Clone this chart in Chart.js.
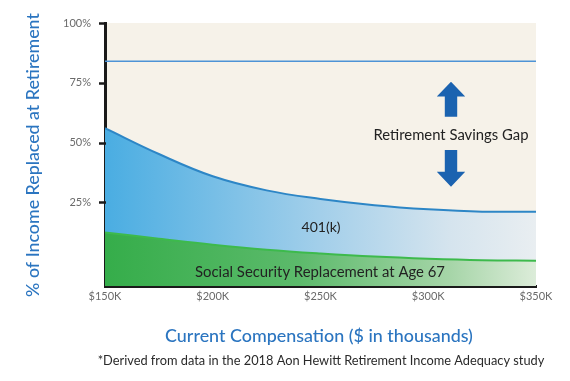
<!DOCTYPE html>
<html>
<head>
<meta charset="utf-8">
<script src="https://cdn.jsdelivr.net/npm/chart.js@4.4.1/dist/chart.umd.min.js"></script>
<style>
html,body{margin:0;padding:0;background:#fff;}
#wrap{width:570px;height:381px;}
</style>
</head>
<body>
<div id="wrap"><canvas id="c" width="570" height="381"></canvas></div>
<script>
// ---- data ----
const compensation = [150, 175, 200, 225, 250, 275, 300, 325, 350];          // $ thousands
const socialSecurity = [12.4, 9.8, 7.3, 5.2, 3.6, 2.3, 1.4, 0.8, 0.6];      // % replaced (top of green)
const total401k = [56.0, 45.2, 35.9, 30.0, 26.4, 23.8, 22.1, 21.1, 21.1];   // % replaced (top of blue)
const retirementNeed = [84, 84, 84, 84, 84, 84, 84, 84, 84];                // target line
const yTickValues = [25, 50, 75, 100];
const xTickValues = [150, 200, 250, 300, 350];

const FONT = 'Lato, "Open Sans", sans-serif';

function toPts(ys){ return compensation.map((x,i)=>({x:x, y:ys[i]})); }

function hGrad(ctx, area, stops){
  const g = ctx.createLinearGradient(area.left, 0, area.right, 0);
  stops.forEach(s=>g.addColorStop(s[0], s[1]));
  return g;
}

function fitText(ctx, text, cx, cy, width, weight, color){
  let size = 12;
  ctx.font = weight + ' ' + size + 'px ' + FONT;
  const w = ctx.measureText(text).width;
  size = size * width / w;
  ctx.font = weight + ' ' + size.toFixed(2) + 'px ' + FONT;
  ctx.fillStyle = color;
  ctx.textAlign = 'center';
  ctx.textBaseline = 'middle';
  ctx.fillText(text, cx, cy);
}

const decor = {
  id: 'decor',
  beforeDraw(chart){
    const {ctx, chartArea:a} = chart;
    ctx.save();
    ctx.fillStyle = '#f6f2e9';
    ctx.fillRect(a.left, a.top, a.right - a.left, a.bottom - a.top);
    ctx.restore();
  },
  afterDraw(chart){
    const ctx = chart.ctx;
    ctx.save();
    // axis titles and footnote
    ctx.save();
    ctx.translate(33, 155);
    ctx.rotate(-Math.PI/2);
    fitText(ctx, '% of Income Replaced at Retirement', 0, 0, 284, '500', '#2b75c0');
    ctx.restore();
    fitText(ctx, 'Current Compensation ($ in thousands)', 319, 336, 308, '500', '#2b75c0');
    fitText(ctx, '*Derived from data in the 2018 Aon Hewitt Retirement Income Adequacy study', 321, 361, 447, '400', '#2a2a2a');
    // in-plot labels
    fitText(ctx, 'Retirement Savings Gap', 451, 135, 155, '400', '#222');
    fitText(ctx, '401(k)', 321, 227, 39, '400', '#222');
    fitText(ctx, 'Social Security Replacement at Age 67', 320, 272, 250, '400', '#222');
    // arrows
    ctx.fillStyle = '#1b63b0';
    const cx = 451;
    ctx.beginPath();
    ctx.moveTo(cx, 81.7); ctx.lineTo(cx+14.2, 96.5); ctx.lineTo(cx+6.2, 96.5);
    ctx.lineTo(cx+6.2, 116.7); ctx.lineTo(cx-6.2, 116.7); ctx.lineTo(cx-6.2, 96.5);
    ctx.lineTo(cx-14.2, 96.5); ctx.closePath(); ctx.fill();
    ctx.beginPath();
    ctx.moveTo(cx, 186.7); ctx.lineTo(cx+14.2, 171.7); ctx.lineTo(cx+6.2, 171.7);
    ctx.lineTo(cx+6.2, 150); ctx.lineTo(cx-6.2, 150); ctx.lineTo(cx-6.2, 171.7);
    ctx.lineTo(cx-14.2, 171.7); ctx.closePath(); ctx.fill();
    // y-axis tick dashes
    const y = chart.scales.y;
    ctx.strokeStyle = '#1a1a1a';
    ctx.lineWidth = 2.5;
    y.ticks.forEach(t=>{
      const py = Math.round(y.getPixelForValue(t.value)) + 0.5;
      ctx.beginPath(); ctx.moveTo(y.right - 6, py); ctx.lineTo(y.right + 1, py); ctx.stroke();
    });
    ctx.restore();
  }
};

new Chart(document.getElementById('c'), {
  type: 'line',
  data: {
    datasets: [
      {
        label: 'Social Security Replacement at Age 67',
        data: toPts(socialSecurity),
        borderColor: '#3dba4c',
        borderWidth: 2,
        pointRadius: 0,
        tension: 0.4,
        fill: 'start',
        backgroundColor: (c)=>{
          const a = c.chart.chartArea; if(!a) return '#5dbb6c';
          return hGrad(c.chart.ctx, a, [[0,'#35ad4a'],[0.45,'#5cba6b'],[0.8,'#a6d5a8'],[1,'#dcecd9']]);
        }
      },
      {
        label: '401(k)',
        data: toPts(total401k),
        borderColor: '#2d86c6',
        borderWidth: 2,
        pointRadius: 0,
        tension: 0.4,
        fill: '-1',
        backgroundColor: (c)=>{
          const a = c.chart.chartArea; if(!a) return '#8cc4e8';
          return hGrad(c.chart.ctx, a, [[0,'#4aade2'],[0.5,'#a3cfea'],[0.8,'#d5e4ee'],[1,'#e9eef1']]);
        }
      },
      {
        label: 'Retirement need',
        data: toPts(retirementNeed),
        borderColor: '#4d93d6',
        borderWidth: 1.5,
        pointRadius: 0,
        fill: false
      }
    ]
  },
  options: {
    responsive: false,
    animation: false,
    devicePixelRatio: 1,
    layout: { padding: { left: 0, top: 23, right: 34, bottom: 0 } },
    plugins: { legend: { display: false }, tooltip: { enabled: false } },
    scales: {
      x: {
        type: 'linear', min: 150, max: 350,
        afterBuildTicks: (s)=>{ s.ticks = xTickValues.map(v=>({value:v})); },
        afterFit: (s)=>{ s.height = 95; },
        grid: { display: false, drawTicks: false },
        border: { display: true, color: '#1a1a1a', width: 3 },
        ticks: { color: '#6a6a6a', font: { family: FONT, size: 11 }, padding: 4, maxRotation: 0,
                 callback: (v)=>'$' + v + 'K' }
      },
      y: {
        min: -10, max: 100,
        afterBuildTicks: (s)=>{ s.ticks = yTickValues.map(v=>({value:v})); },
        afterFit: (s)=>{ s.width = 105; },
        grid: { display: false, drawTicks: false },
        border: { display: true, color: '#1a1a1a', width: 3 },
        ticks: { color: '#6a6a6a', font: { family: FONT, size: 11 }, padding: 14,
                 callback: (v)=>v + '%' }
      }
    }
  },
  plugins: [decor]
});
</script>
</body>
</html>
